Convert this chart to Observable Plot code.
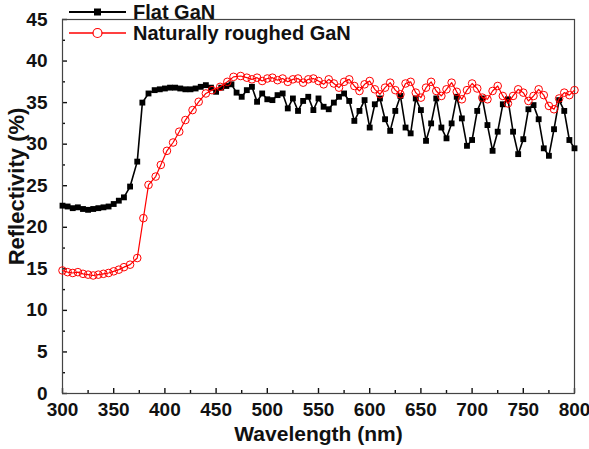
<!DOCTYPE html>
<html><head><meta charset="utf-8">
<script src="https://cdn.jsdelivr.net/npm/d3@7"></script>
<script src="https://cdn.jsdelivr.net/npm/@observablehq/plot@0.6"></script>
<style>
html,body{margin:0;padding:0;background:#fff;}
#wrap{position:relative;width:589px;height:449px;}
#legend{position:absolute;left:0;top:0;}
</style></head>
<body><div id="wrap"><svg id="legend" width="589" height="60"></svg></div>
<script>
const seriesNames = ["Flat GaN", "Naturally roughed GaN"];
const wlFlat = [300,305,310,315,320,325,330,335,340,345,350,355,360,366,373,378,384,390,395,400,405,410,415,420,425,430,435,440,445,450,455,460,465,470,475,480,485,490,495,500,505,510,515,520,525,530,535,540,545,550,555,560,565,570,575,580,585,590,595,600,605,610,615,620,625,630,635,640,645,650,655,660,665,670,675,680,685,690,695,700,705,710,715,720,725,730,735,740,745,750,755,760,765,770,775,780,785,790,795,800];
const rFlat = [22.6,22.5,22.3,22.4,22.2,22.1,22.2,22.3,22.4,22.5,22.8,23.2,23.6,24.9,27.9,35.0,36.1,36.5,36.6,36.7,36.8,36.8,36.7,36.6,36.6,36.7,36.9,37.1,36.8,36.3,36.8,37.0,37.2,36.2,35.7,36.5,36.9,35.1,36.1,35.4,35.3,35.9,36.1,34.3,35.5,34.0,35.2,35.7,34.1,35.5,34.5,34.2,35.0,35.7,36.1,35.2,32.8,34.0,35.3,32.0,34.8,35.5,33.0,31.6,34.0,35.8,32.0,31.3,35.5,34.1,30.4,32.5,35.5,32.0,30.7,32.5,35.7,33.1,29.8,30.5,34.0,35.5,32.3,29.2,31.5,34.8,35.4,31.5,28.8,30.6,34.2,34.7,33.0,29.5,28.6,31.8,35.3,34.0,30.5,29.5];
const wlRough = [300,305,310,315,320,325,330,335,340,345,350,355,360,366,373,379,384,391,396,402,408,414,420,427,433,440,446,454,461,467,474,480,485,490,495,500,505,510,515,520,525,530,535,540,545,550,555,560,565,570,575,580,585,590,595,600,605,610,615,620,625,630,635,640,645,650,655,660,665,670,675,680,685,690,695,700,705,710,715,720,725,730,735,740,745,750,755,760,765,770,775,780,785,790,795,800];
const rRough = [14.8,14.6,14.5,14.6,14.4,14.3,14.2,14.3,14.4,14.5,14.7,14.9,15.2,15.5,16.3,21.1,25.1,26.1,27.5,29.2,30.2,31.5,32.9,34.1,35.1,36.1,36.5,36.9,37.5,38.1,38.2,38.0,37.8,38.0,37.6,37.9,38.0,37.7,37.9,37.5,37.8,37.9,37.4,37.8,37.9,37.6,37.2,37.8,37.3,36.8,37.5,37.8,37.0,36.4,37.2,37.6,36.6,36.0,36.8,37.4,36.5,36.0,37.3,37.5,36.2,35.6,36.8,37.5,36.4,35.8,36.6,37.4,36.3,35.4,36.5,37.3,36.7,35.6,35.4,36.4,37.0,35.8,34.9,35.8,36.6,36.2,35.2,35.8,36.6,35.9,34.6,34.2,35.5,36.2,35.9,36.5];
const xTicks = [300,350,400,450,500,550,600,650,700,750,800];
const xMinor = [325,375,425,475,525,575,625,675,725,775];
const yTicks = [0,5,10,15,20,25,30,35,40,45];
const yMinor = [2.5,7.5,12.5,17.5,22.5,27.5,32.5,37.5,42.5];
const xTitle = "Wavelength (nm)";
const yTitle = "Reflectivity (%)";

const flat = wlFlat.map((w,i)=>({w, r:rFlat[i]}));
const rough = wlRough.map((w,i)=>({w, r:rRough[i]}));
const FONT = "'Liberation Sans', Arial, sans-serif";
const blank = () => "";

const chart = Plot.plot({
  width: 589, height: 449,
  marginLeft: 62, marginRight: 15, marginTop: 19, marginBottom: 56,
  style: {fontFamily: FONT, background: "#fff"},
  x: {domain: [300, 800]},
  y: {domain: [0, 45]},
  marks: [
    // inward tick marks: outward ticks shifted back inside the frame
    Plot.axisX({ticks: xTicks, tickSize: 5, dy: -5, tickFormat: blank, label: null, stroke: "#111", strokeWidth: 1.4}),
    Plot.axisX({ticks: xMinor, tickSize: 3, dy: -3, tickFormat: blank, label: null, stroke: "#111", strokeWidth: 1.4}),
    Plot.axisY({ticks: yTicks, tickSize: 5, dx: 5, tickFormat: blank, label: null, stroke: "#111", strokeWidth: 1.4}),
    Plot.axisY({ticks: yMinor, tickSize: 3, dx: 3, tickFormat: blank, label: null, stroke: "#111", strokeWidth: 1.4}),
    Plot.axisX({ticks: xTicks, tickSize: 0, tickPadding: 9, label: null, fontSize: 19, fontWeight: "bold", fill: "#111"}),
    Plot.axisY({ticks: yTicks, tickSize: 0, tickPadding: 15, label: null, fontSize: 19, fontWeight: "bold", fill: "#111"}),
    Plot.frame({stroke: "#444", strokeWidth: 1.2}),
    Plot.text([xTitle], {frameAnchor: "bottom", text: d => d, dy: 47, fontSize: 21, fontWeight: "bold", fill: "#111"}),
    Plot.text([yTitle], {frameAnchor: "left", textAnchor: "middle", text: d => d, dx: -46, dy: -20, rotate: -90, fontSize: 22, fontWeight: "bold", fill: "#111"}),
    Plot.line(flat, {x: "w", y: "r", stroke: "#000", strokeWidth: 1.6}),
    Plot.dot(flat, {x: "w", y: "r", symbol: "square", r: 3.3, fill: "#000", stroke: "none"}),
    Plot.line(rough, {x: "w", y: "r", stroke: "#ff0000", strokeWidth: 1.2}),
    Plot.dot(rough, {x: "w", y: "r", r: 3.8, fill: "none", stroke: "#ff0000", strokeWidth: 1})
  ]
});
document.getElementById("wrap").insertBefore(chart, document.getElementById("legend"));

// legend inside the plot area
const lg = d3.select("#legend");
const rows = [
  {name: seriesNames[0], color: "#000", sym: "square", y: 12},
  {name: seriesNames[1], color: "#ff0000", sym: "circle", y: 33}
];
rows.forEach(row => {
  lg.append("line").attr("x1", 69).attr("x2", 126).attr("y1", row.y).attr("y2", row.y)
    .attr("stroke", row.color).attr("stroke-width", row.sym === "square" ? 1.8 : 1.4);
  if (row.sym === "square") {
    lg.append("rect").attr("x", 94).attr("y", row.y - 3.5).attr("width", 7).attr("height", 7).attr("fill", row.color);
  } else {
    lg.append("circle").attr("cx", 97.5).attr("cy", row.y).attr("r", 4.5).attr("fill", "#fff")
      .attr("stroke", row.color).attr("stroke-width", 1.2);
  }
  lg.append("text").attr("x", 133).attr("y", row.y + 7).text(row.name)
    .attr("font-family", FONT).attr("font-size", 20).attr("font-weight", "bold").attr("fill", "#111");
});
</script>
</body></html>
